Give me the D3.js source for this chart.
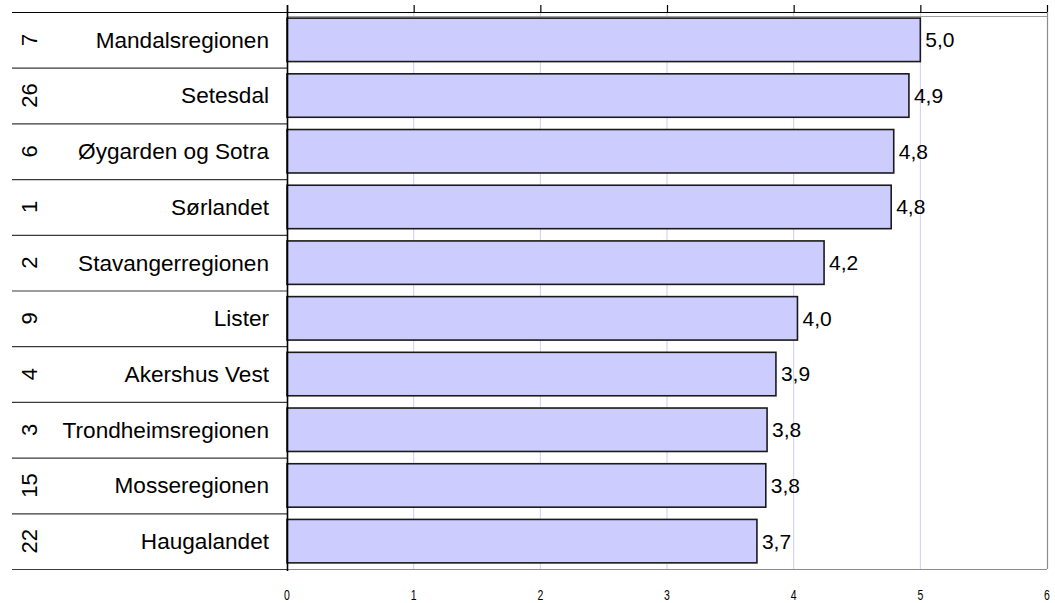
<!DOCTYPE html>
<html>
<head>
<meta charset="utf-8">
<script src="https://cdn.jsdelivr.net/npm/d3@7"></script>
<style>
  html, body { margin: 0; padding: 0; background: #ffffff; }
  svg { display: block; font-family: "Liberation Sans", Arial, sans-serif; }
</style>
</head>
<body>
<svg id="chart" width="1055" height="603"></svg>
<script>
const ids = ["7", "26", "6", "1", "2", "9", "4", "3", "15", "22"];
const regions = ["Mandalsregionen", "Setesdal", "Øygarden og Sotra", "Sørlandet", "Stavangerregionen",
                 "Lister", "Akershus Vest", "Trondheimsregionen", "Mosseregionen", "Haugalandet"];
const values = [5.00, 4.91, 4.79, 4.77, 4.24, 4.03, 3.86, 3.79, 3.78, 3.71];
const xTicks = [0, 1, 2, 3, 4, 5, 6];

const svg = d3.select("#chart");
const pLeft = 287, pRight = 1047, pTop = 12, pBottom = 569, labelLeft = 12;

const x = d3.scaleLinear().domain([0, 6]).range([pLeft, pRight]);
const y = d3.scaleBand().domain(d3.range(regions.length)).range([pTop, pBottom]).padding(0);
const barH = y.bandwidth() * 0.78;
const fmt = v => d3.format(".1f")(v).replace(".", ",");

// gridlines
svg.append("g").selectAll("line").data(xTicks.filter(t => t > 0 && t < 6)).join("line")
  .attr("x1", d => x(d)).attr("x2", d => x(d))
  .attr("y1", pTop).attr("y2", pBottom)
  .attr("stroke", "#ccccf4").attr("stroke-width", 1);

// plot frame (gray)
svg.append("line").attr("x1", pLeft).attr("x2", pRight).attr("y1", pBottom + 0.5).attr("y2", pBottom + 0.5)
  .attr("stroke", "#8c8c8c").attr("stroke-width", 1.2);
svg.append("line").attr("x1", pRight + 0.5).attr("x2", pRight + 0.5).attr("y1", pTop).attr("y2", pBottom)
  .attr("stroke", "#8c8c8c").attr("stroke-width", 1.2);
svg.append("line").attr("x1", pLeft).attr("x2", pRight).attr("y1", 16.5).attr("y2", 16.5)
  .attr("stroke", "#a0a0a0").attr("stroke-width", 1);

// top axis line + ticks
svg.append("line").attr("x1", labelLeft).attr("x2", pRight).attr("y1", pTop + 0.5).attr("y2", pTop + 0.5)
  .attr("stroke", "#000").attr("stroke-width", 1.2);
svg.append("g").selectAll("line").data(xTicks).join("line")
  .attr("x1", d => x(d) + 0.5).attr("x2", d => x(d) + 0.5)
  .attr("y1", 5).attr("y2", pTop)
  .attr("stroke", "#000").attr("stroke-width", 1.2);

// row separators in the label area
svg.append("g").selectAll("line").data(d3.range(1, regions.length + 1)).join("line")
  .attr("x1", labelLeft).attr("x2", pLeft)
  .attr("y1", d => (d < regions.length ? y(d) : pBottom) + 0.5)
  .attr("y2", d => (d < regions.length ? y(d) : pBottom) + 0.5)
  .attr("stroke", "#3a3a3a").attr("stroke-width", 1.2);

// bars
svg.append("g").selectAll("rect").data(values).join("rect")
  .attr("x", x(0))
  .attr("y", (d, i) => y(i) + (y.bandwidth() - barH) / 2)
  .attr("width", d => x(d) - x(0))
  .attr("height", barH)
  .attr("fill", "#ccccff")
  .attr("stroke", "#1a1a1a").attr("stroke-width", 1.6);

// left axis line
svg.append("line").attr("x1", pLeft + 0.5).attr("x2", pLeft + 0.5).attr("y1", 5).attr("y2", pBottom + 2)
  .attr("stroke", "#000").attr("stroke-width", 1.6);

// value labels
svg.append("g").selectAll("text").data(values).join("text")
  .attr("x", d => x(d) + 5)
  .attr("y", (d, i) => y(i) + y.bandwidth() / 2)
  .attr("dy", "0.35em")
  .attr("font-size", 21)
  .attr("fill", "#000")
  .text(d => fmt(d));

// category labels
svg.append("g").selectAll("text").data(regions).join("text")
  .attr("x", 269)
  .attr("y", (d, i) => y(i) + y.bandwidth() / 2)
  .attr("dy", "0.35em")
  .attr("text-anchor", "end")
  .attr("font-size", 22.6)
  .attr("fill", "#000")
  .text(d => d);

// rotated id labels
svg.append("g").selectAll("text").data(ids).join("text")
  .attr("transform", (d, i) => `translate(36.5,${y(i) + y.bandwidth() / 2}) rotate(-90)`)
  .attr("text-anchor", "middle")
  .attr("font-size", 22)
  .attr("fill", "#000")
  .text(d => d);

// bottom tick labels
svg.append("g").selectAll("text").data(xTicks).join("text")
  .attr("transform", d => `translate(${x(d)},600) scale(0.7,1)`)
  .attr("text-anchor", "middle")
  .attr("font-size", 15)
  .attr("fill", "#000")
  .text(d => d);
</script>
</body>
</html>
